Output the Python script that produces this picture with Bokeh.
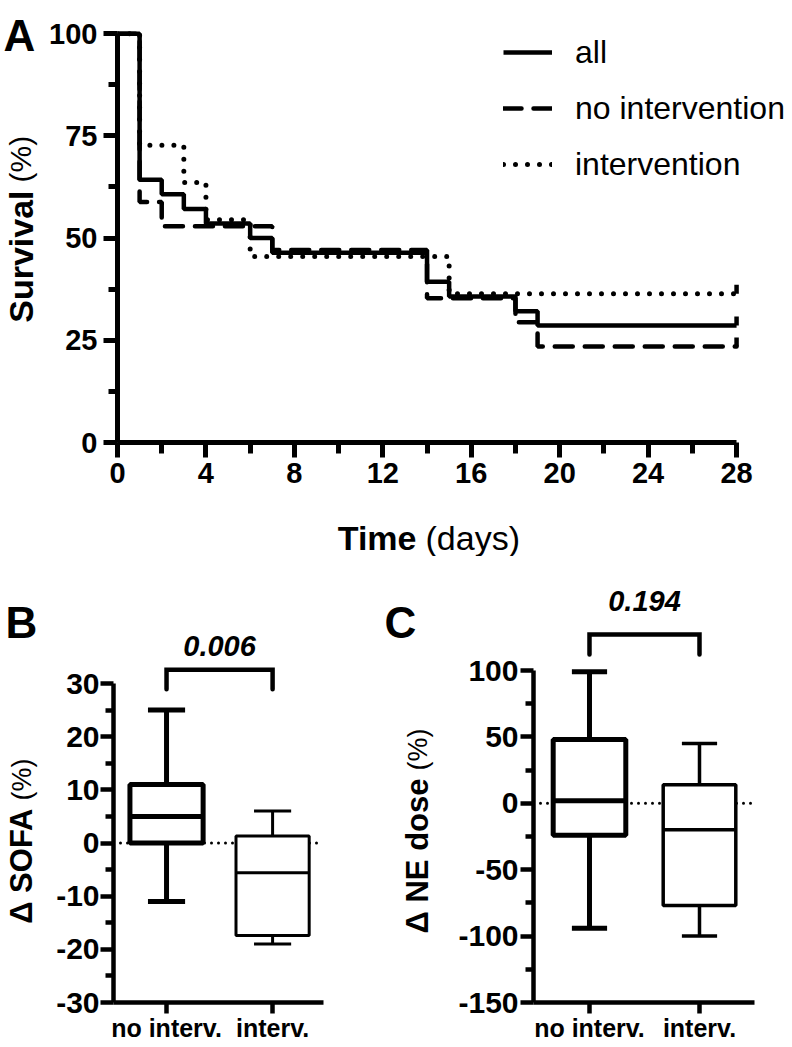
import math
from bokeh.plotting import figure
from bokeh.models import (Range1d, FixedTicker, Label, Legend, LegendItem, Span,
                          ColumnDataSource)
from bokeh.layouts import column, row
from bokeh.embed import file_html
from bokeh.resources import INLINE

# ---------------- data ----------------
days_all = [0, 1, 2, 3, 4, 6, 7, 14, 15, 18, 19, 28]
surv_all = [100, 64.3, 60.7, 57.1, 53.6, 50.0, 46.4, 39.3, 35.7, 32.1, 28.6, 28.6]
days_noint = [0, 1, 2, 7, 14, 18, 19, 28]
surv_noint = [100, 58.8, 52.9, 47.1, 35.3, 29.4, 23.5, 23.5]
days_int = [0, 1, 3, 4, 6, 15, 28]
surv_int = [100, 72.7, 63.6, 54.5, 45.5, 36.4, 36.4]
series_names = ["all", "no intervention", "intervention"]
time_ticks = [0, 4, 8, 12, 16, 20, 24, 28]
time_minor = [2, 6, 10, 14, 18, 22, 26]
surv_ticks = [0, 25, 50, 75, 100]
surv_minor = [12.5, 37.5, 62.5, 87.5]

groups = ["no interv.", "interv."]
group_pos = [1, 2]
sofa_min = [-11, -19]
sofa_q1 = [0, -17.4]
sofa_med = [5, -5.6]
sofa_q3 = [11, 1.3]
sofa_max = [25, 6]
sofa_ticks = [-30, -20, -10, 0, 10, 20, 30]
sofa_minor = [-25, -15, -5, 5, 15, 25]
sofa_p = "0.006"

ne_min = [-94, -100]
ne_q1 = [-24, -77]
ne_med = [2, -20]
ne_q3 = [48, 14]
ne_max = [99, 45]
ne_ticks = [-150, -100, -50, 0, 50, 100]
ne_minor = [-125, -75, -25, 25, 75]
ne_p = "0.194"

FONT = "Liberation Sans"


def base_axes(p):
    p.grid.visible = False
    p.outline_line_color = None
    p.background_fill_color = "white"
    p.border_fill_color = "white"
    for ax in list(p.xaxis) + list(p.yaxis):
        ax.axis_line_color = "black"
        ax.major_tick_line_color = "black"
        ax.minor_tick_line_color = "black"
        ax.major_tick_in = 0
        ax.minor_tick_in = 0
        ax.major_label_text_font = FONT
        ax.major_label_text_font_style = "bold"
        ax.major_label_text_color = "black"


def strip(width, height, frame_top, frame_bottom):
    """Plain text area. Its frame is aligned with the neighbouring plot's frame, so the
    data units are pixels measured from the top of the strip."""
    s = figure(width=width, height=height, x_range=Range1d(0, width),
               y_range=Range1d(frame_bottom, frame_top), x_axis_type=None, y_axis_type=None,
               output_backend="svg", toolbar_location=None, title_location=None,
               min_border_left=0, min_border_right=0,
               min_border_top=frame_top, min_border_bottom=height - frame_bottom)
    s.outline_line_color = None
    s.background_fill_color = "white"
    s.border_fill_color = "white"
    return s


def put(p, text, x, y, size, style="bold", align="left", baseline="alphabetic", angle=0):
    p.add_layout(Label(x=x, y=y, text=text, text_font=FONT, text_font_size=f"{size}px",
                       text_font_style=style, text_color="black", text_align=align,
                       text_baseline=baseline, angle=angle))


# ---------------- Panel A ----------------
A_LEFT = 44
A_H = 508
A_BOT = 66
pA = figure(width=792 - A_LEFT, height=A_H, x_range=Range1d(0, 30.53),
            y_range=Range1d(0, 108.12), output_backend="svg", toolbar_location=None,
            title_location=None, min_border_left=117 - A_LEFT, min_border_right=0,
            min_border_top=0, min_border_bottom=A_BOT)
base_axes(pA)
xa = pA.xaxis[0]
ya = pA.yaxis[0]
xa.ticker = FixedTicker(ticks=time_ticks, minor_ticks=time_minor)
ya.ticker = FixedTicker(ticks=surv_ticks, minor_ticks=surv_minor)
xa.major_label_overrides = {t: str(t) for t in time_ticks}
ya.major_label_overrides = {t: str(t) for t in surv_ticks}
xa.bounds = (time_ticks[0], time_ticks[-1])
ya.bounds = (surv_ticks[0], surv_ticks[-1])
for ax in (xa, ya):
    ax.axis_line_width = 5
    ax.major_tick_line_width = 5
    ax.minor_tick_line_width = 5
    ax.major_label_text_font_size = "29px"
xa.major_tick_out = 15
xa.minor_tick_out = 11
xa.major_label_standoff = 5
ya.major_tick_out = 14
ya.minor_tick_out = 9
ya.major_label_standoff = 6

r_all = pA.step(days_all, surv_all, mode="after", line_color="black", line_width=4.5)
r_no = pA.step(days_noint, surv_noint, mode="after", line_color="black", line_width=4.5,
               line_dash="18 12", line_cap="round")
r_int = pA.step(days_int, surv_int, mode="after", line_color="black", line_width=5,
                line_dash="0 12", line_cap="round")
for d, s in ((days_all, surv_all), (days_noint, surv_noint), (days_int, surv_int)):
    pA.ray(x=[d[-1]], y=[s[-1]], length=9, length_units="screen", angle=math.pi / 2,
           line_color="black", line_width=4.5)

legend = Legend(items=[LegendItem(label=series_names[0], renderers=[r_all]),
                       LegendItem(label=series_names[1], renderers=[r_no]),
                       LegendItem(label=series_names[2], renderers=[r_int])],
                location=(386, 250), glyph_width=49, glyph_height=56, label_height=56,
                label_standoff=23, spacing=0, padding=0, margin=0,
                border_line_color=None, background_fill_alpha=0,
                label_text_font=FONT, label_text_font_size="32px", label_text_color="black")
pA.add_layout(legend)

sA = strip(A_LEFT, A_H, 0, A_H - A_BOT)
put(sA, "A", 3, 35, 44)
put(sA, "Survival", 20, 190, 34, "bold", "right", "middle", math.pi / 2)
put(sA, "(%)", 20, 182, 30, "normal", "left", "middle", math.pi / 2)

sT = strip(792, 48, 0, 48)
put(sT, "Time", 416, 29, 34, "bold", "right")
put(sT, "(days)", 425, 29, 34, "normal", "left")


# ---------------- Panels B / C ----------------
ROW2_H = 491
FR_TOP = 7
FR_BOT = 45


def box_panel(width, x_range, y_range, ticks, minor, mins, q1, med, q3, maxs, lws, box_w,
              cap_w, border_left, border_right, standoff, pval, bracket_top, bracket_leg, p_y):
    p = figure(width=width, height=ROW2_H, x_range=Range1d(*x_range), y_range=Range1d(*y_range),
               output_backend="svg", toolbar_location=None, title_location=None,
               min_border_left=border_left, min_border_right=border_right,
               min_border_top=FR_TOP, min_border_bottom=FR_BOT)
    base_axes(p)
    xa = p.xaxis[0]
    ya = p.yaxis[0]
    ya.ticker = FixedTicker(ticks=ticks, minor_ticks=minor)
    ya.major_label_overrides = {t: str(t) for t in ticks}
    ya.bounds = (ticks[0], ticks[-1])
    ya.major_label_text_font_size = "30px"
    ya.major_label_standoff = standoff
    ya.major_tick_out = 13
    ya.minor_tick_out = 8
    xa.ticker = FixedTicker(ticks=group_pos)
    xa.major_label_overrides = {g: n for g, n in zip(group_pos, groups)}
    xa.minor_tick_line_color = None
    xa.major_tick_out = 11
    xa.major_label_text_font_size = "25px"
    xa.major_label_standoff = 0
    for ax in (xa, ya):
        ax.axis_line_width = 4.5
        ax.major_tick_line_width = 4.5
        ax.minor_tick_line_width = 4.5

    zero = Span(location=0, dimension="width", line_color="black", line_width=3,
                line_dash="0 7", line_cap="round", level="underlay")
    p.add_layout(zero)

    src = ColumnDataSource(dict(
        x=group_pos, lo=mins, q1=q1, med=med, q3=q3, hi=maxs, lw=lws,
        bl=[g - box_w / 2 for g in group_pos], br=[g + box_w / 2 for g in group_pos],
        cl=[g - cap_w / 2 for g in group_pos], cr=[g + cap_w / 2 for g in group_pos]))
    p.segment(x0="x", y0="q3", x1="x", y1="hi", source=src, line_color="black", line_width="lw")
    p.segment(x0="x", y0="q1", x1="x", y1="lo", source=src, line_color="black", line_width="lw")
    p.segment(x0="cl", y0="hi", x1="cr", y1="hi", source=src, line_color="black", line_width="lw")
    p.segment(x0="cl", y0="lo", x1="cr", y1="lo", source=src, line_color="black", line_width="lw")
    p.quad(left="bl", right="br", bottom="q1", top="q3", source=src, fill_color="white",
           line_color="black", line_width="lw")
    p.segment(x0="bl", y0="med", x1="br", y1="med", source=src, line_color="black",
              line_width="lw")

    p.line(x=[group_pos[0], group_pos[0], group_pos[1], group_pos[1]],
           y=[bracket_leg, bracket_top, bracket_top, bracket_leg],
           line_color="black", line_width=4.5, line_join="miter", line_cap="round")
    p.add_layout(Label(x=(group_pos[0] + group_pos[1]) / 2, y=p_y, text=pval,
                       text_font=FONT, text_font_size="29px", text_font_style="bold italic",
                       text_align="center", text_baseline="middle", text_color="black"))
    return p


B_LEFT = 52
B_W = 380 - B_LEFT
C_LEFT = 74
C_W = 792 - 380 - C_LEFT
FR_H = ROW2_H - FR_TOP - FR_BOT
sofa_top = -30 + FR_H * 60 / 319.0
ne_top = -150 + FR_H * 250 / 332.0

pB = box_panel(B_W, (0.5, 2.48), (-30, sofa_top), sofa_ticks, sofa_minor,
               sofa_min, sofa_q1, sofa_med, sofa_q3, sofa_max, [5, 3],
               0.69, 0.35, 113 - B_LEFT, 380 - 323, 1, sofa_p, 32.6, 28.9, 37.1)
pC = box_panel(C_W, (0.491, 2.5), (-150, ne_top), ne_ticks, ne_minor,
               ne_min, ne_q1, ne_med, ne_q3, ne_max, [5, 3.5],
               0.66, 0.32, 533 - 380 - C_LEFT, 792 - 754, 2, ne_p, 127.1, 112, 152.7)

sB = strip(B_LEFT, ROW2_H, FR_TOP, ROW2_H - FR_BOT)
put(sB, "B", 5, 66, 44)
put(sB, "\u0394 SOFA", 21, 252, 31, "bold", "right", "middle", math.pi / 2)
put(sB, "(%)", 21, 244, 27, "normal", "left", "middle", math.pi / 2)

sC = strip(C_LEFT, ROW2_H, FR_TOP, ROW2_H - FR_BOT)
put(sC, "C", 4, 66, 44)
put(sC, "\u0394 NE dose", 37, 222, 31, "bold", "right", "middle", math.pi / 2)
put(sC, "(%)", 37, 214, 27, "normal", "left", "middle", math.pi / 2)

layout = column(row(sA, pA), sT, row(sB, pB, sC, pC))
open("out.html", "w").write(file_html(layout, INLINE))
